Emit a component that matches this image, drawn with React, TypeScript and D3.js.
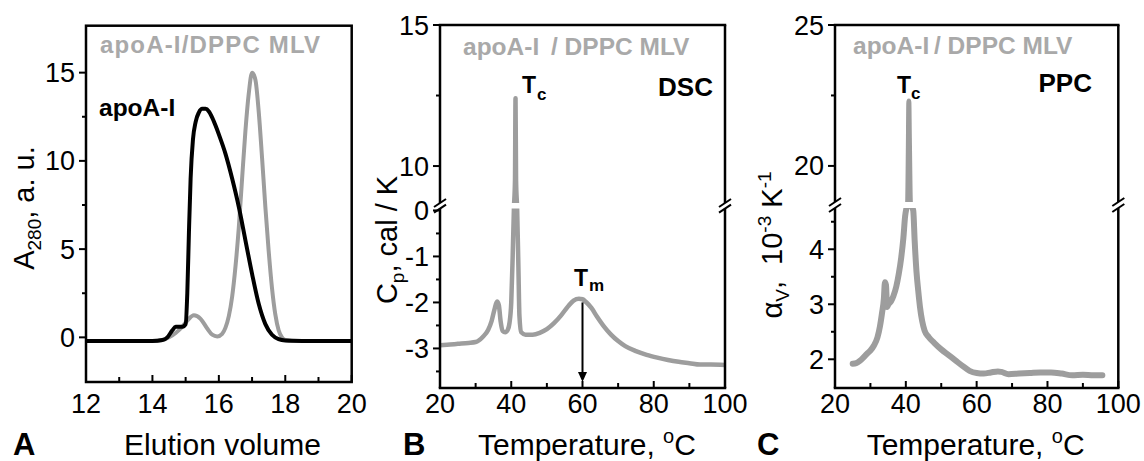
import React from "react";
import * as d3 from "d3";

const FONT = "'Liberation Sans', Arial, Helvetica, sans-serif";
const CURVE_GRAY = "#9d9d9d";
const LEGEND_GRAY = "#a9a9a9";

// ---------- Panel A : SEC ----------
const secLipidVol = [12.0, 13.0, 14.0, 14.3, 14.5, 14.7, 14.9, 15.05, 15.25, 15.45, 15.65, 15.8, 15.95, 16.1, 16.2, 16.3, 16.4, 16.5, 16.6, 16.7, 16.8, 16.9, 17.0, 17.1, 17.2, 17.3, 17.4, 17.5, 17.6, 17.7, 17.8, 17.9, 18.0, 18.2, 19.0, 20.0];
const secLipidAbs = [-0.2, -0.2, -0.2, -0.15, 0.0, 0.25, 0.6, 0.95, 1.25, 1.05, 0.5, 0.15, 0.05, 0.2, 0.55, 1.2, 2.3, 4.0, 6.2, 9.0, 11.7, 13.8, 15.0, 14.6, 12.8, 10.2, 7.4, 4.9, 2.8, 1.3, 0.4, 0.0, -0.15, -0.2, -0.2, -0.2];
const secApoVol = [12.0, 13.0, 14.0, 14.3, 14.45, 14.6, 14.7, 14.9, 15.0, 15.05, 15.1, 15.15, 15.22, 15.3, 15.4, 15.5, 15.6, 15.7, 15.8, 15.9, 16.0, 16.2, 16.4, 16.6, 16.8, 17.0, 17.2, 17.4, 17.6, 17.8, 18.0, 18.5, 20.0];
const secApoAbs = [-0.2, -0.2, -0.2, -0.15, 0.0, 0.4, 0.6, 0.6, 0.75, 2.5, 6.0, 9.0, 11.2, 12.2, 12.75, 12.95, 12.95, 12.8, 12.45, 12.0, 11.5, 10.4, 9.0, 7.4, 5.5, 3.6, 1.9, 0.75, 0.15, -0.1, -0.18, -0.2, -0.2];
const secXTicks = [12, 14, 16, 18, 20];
const secXMinor = [13, 15, 17, 19];
const secYTicks = [0, 5, 10, 15];
const secYMinor = [2.5, 7.5, 12.5];

// ---------- Panel B : DSC ----------
const dscT = [20, 22, 25, 28, 30, 32, 33.5, 34.5, 35.3, 36.0, 36.5, 37.0, 37.6, 38.3, 39.0, 39.5, 40.0, 40.4, 40.75, 41.05, 41.2, 41.35, 41.65, 42.0, 42.3, 42.8, 44, 46, 48, 50, 52, 54, 56, 57.5, 59, 60, 61, 62.5, 64, 66, 68, 70, 72, 75, 78, 81, 84, 87, 90, 93, 96, 100];
const dscCp = [-2.93, -2.92, -2.9, -2.88, -2.86, -2.75, -2.6, -2.4, -2.15, -1.98, -2.05, -2.4, -2.62, -2.65, -2.6, -2.45, -2.0, -1.0, 0.5, 9.5, 12.4, 9.5, 0.5, -1.2, -2.3, -2.65, -2.7, -2.7, -2.66, -2.58, -2.45, -2.28, -2.08, -1.96, -1.92, -1.93, -1.99, -2.12, -2.3, -2.52, -2.7, -2.84, -2.95, -3.06, -3.14, -3.2, -3.25, -3.29, -3.32, -3.35, -3.35, -3.36];
const tempTicks = [20, 40, 60, 80, 100];
const tempMinor = [30, 50, 70, 90];
const dscYTicksLow = [-3, -2, -1, 0];
const dscYMinorLow = [-3.5, -2.5, -1.5, -0.5];
const dscYTicksHigh = [10, 15];
const dscYMinorHigh = [12.5];
const tmTemp = 60;
const tmArrow = [-2.0, -3.73];

// ---------- Panel C : PPC ----------
const ppcT = [25, 26, 27, 28, 29, 30, 31, 32, 32.7, 33.3, 33.8, 34.1, 34.4, 34.7, 35.1, 35.8, 36.5, 37.3, 38.0, 38.7, 39.3, 39.8, 40.2, 40.5, 40.7, 40.85, 41.0, 41.3, 41.7, 42.1, 42.5, 43.0, 43.5, 44.0, 44.6, 45.3, 46.5, 48, 50, 52, 54, 56, 58, 60, 62, 64, 66, 67, 69, 72, 75, 78, 81, 84, 87, 90, 93, 95.5];
const ppcAlpha = [1.92, 1.93, 1.97, 2.03, 2.1, 2.16, 2.25, 2.4, 2.6, 2.85, 3.1, 3.4, 3.35, 2.95, 3.0, 3.05, 3.15, 3.32, 3.55, 3.85, 4.2, 4.6, 5.5, 15, 20.5, 22.3, 21, 17, 8, 4.7, 4.15, 3.6, 3.25, 2.95, 2.7, 2.52, 2.4, 2.3, 2.18, 2.08, 1.98, 1.88, 1.79, 1.75, 1.74, 1.76, 1.78, 1.77, 1.73, 1.74, 1.75, 1.76, 1.76, 1.74, 1.71, 1.72, 1.71, 1.71];
const ppcYTicksLow = [2, 3, 4];
const ppcYMinorLow = [2.5, 3.5, 4.5];
const ppcYTicksHigh = [20, 25];
const ppcYMinorHigh = [22.5];

type Scale = (v: number) => number;

function LeftTicks({ x0, y, major, minor }: { x0: number; y: Scale; major: number[]; minor: number[] }) {
  return (
    <g>
      {major.map((v) => (
        <line key={"M" + v} x1={x0 - 7} x2={x0} y1={y(v)} y2={y(v)} stroke="#000" strokeWidth={2} />
      ))}
      {minor.map((v) => (
        <line key={"m" + v} x1={x0 - 4} x2={x0} y1={y(v)} y2={y(v)} stroke="#000" strokeWidth={2} />
      ))}
      {major.map((v) => (
        <text key={"t" + v} x={x0 - 11} y={y(v) + 9.5} textAnchor="end" fontSize={27} fontFamily={FONT}>
          {String(v)}
        </text>
      ))}
    </g>
  );
}

function BottomTicks({ y0, x, major, minor }: { y0: number; x: Scale; major: number[]; minor: number[] }) {
  return (
    <g>
      {major.map((v) => (
        <line key={"M" + v} x1={x(v)} x2={x(v)} y1={y0} y2={y0 - 7} stroke="#000" strokeWidth={2} />
      ))}
      {minor.map((v) => (
        <line key={"m" + v} x1={x(v)} x2={x(v)} y1={y0} y2={y0 - 5} stroke="#000" strokeWidth={2} />
      ))}
      {major.map((v) => (
        <text key={"t" + v} x={x(v)} y={413} textAnchor="middle" fontSize={27} fontFamily={FONT}>
          {String(v)}
        </text>
      ))}
    </g>
  );
}

function BrokenFrame({ x0, x1, y0, y1, gA, gB }: { x0: number; x1: number; y0: number; y1: number; gA: number; gB: number }) {
  const s = { stroke: "#000", strokeWidth: 2.5, fill: "none" } as const;
  const mark = (x: number, y: number, k: string) => (
    <line key={k} x1={x - 6} y1={y + 4} x2={x + 6} y2={y - 4} stroke="#000" strokeWidth={2} />
  );
  return (
    <g>
      <line x1={x0 - 1.25} x2={x1 + 1.25} y1={y1} y2={y1} {...s} />
      <line x1={x0 - 1.25} x2={x1 + 1.25} y1={y0} y2={y0} {...s} />
      <line x1={x0} x2={x0} y1={y1} y2={gA} {...s} />
      <line x1={x0} x2={x0} y1={gB} y2={y0} {...s} />
      <line x1={x1} x2={x1} y1={y1} y2={gA} {...s} />
      <line x1={x1} x2={x1} y1={gB} y2={y0} {...s} />
      {mark(x0, gA, "a")}
      {mark(x0, gB, "b")}
      {mark(x1, gA, "c")}
      {mark(x1, gB, "d")}
    </g>
  );
}

export default function App() {
  // ----- Panel A scales
  const ax = d3.scaleLinear().domain([12, 20]).range([86, 351.7]);
  const ay = d3.scaleLinear().domain([-2.53, 17.66]).range([382, 25.7]);
  const lineA = d3
    .line<number>()
    .curve(d3.curveMonotoneX);
  const lipidPath = lineA
    .x((_, i) => ax(secLipidVol[i]))
    .y((d) => ay(d))(secLipidAbs) as string;
  const apoPath = lineA
    .x((_, i) => ax(secApoVol[i]))
    .y((d) => ay(d))(secApoAbs) as string;

  // ----- Panel B scales (broken y axis)
  const bx = d3.scaleLinear().domain([20, 100]).range([440, 725]);
  const by = d3.scaleLinear().domain([-3.86, 0.04, 8.69, 15]).range([388, 208.6, 203, 25]);
  const dscPath = d3
    .line<number>()
    .x((_, i) => bx(dscT[i]))
    .y((d) => by(d))
    .curve(d3.curveMonotoneX)(dscCp) as string;

  // ----- Panel C scales (broken y axis)
  const cx = d3.scaleLinear().domain([20, 100]).range([835, 1118.3]);
  const cy = d3.scaleLinear().domain([1.478, 4.75, 18.72, 25]).range([388, 208, 202, 25]);
  const ppcPath = d3
    .line<number>()
    .x((_, i) => cx(ppcT[i]))
    .y((d) => cy(d))
    .curve(d3.curveMonotoneX)(ppcAlpha) as string;

  const arrowX = bx(tmTemp);
  const arrowY0 = by(tmArrow[0]);
  const arrowY1 = by(tmArrow[1]);

  return (
    <svg
      width={1144}
      height={461}
      viewBox="0 0 1144 461"
      style={{ position: "absolute", left: 0, top: 0, background: "#fff" }}
      fontFamily={FONT}
    >
      <defs>
        <clipPath id="bLow">
          <rect x={440} y={208.6} width={285} height={179.4} />
        </clipPath>
        <clipPath id="bHigh">
          <rect x={440} y={25} width={285} height={178} />
        </clipPath>
        <clipPath id="cLow">
          <rect x={835} y={208} width={283.3} height={180} />
        </clipPath>
        <clipPath id="cHigh">
          <rect x={835} y={25} width={283.3} height={177} />
        </clipPath>
        <clipPath id="aClip">
          <rect x={86} y={25.7} width={265.7} height={356.3} />
        </clipPath>
      </defs>

      {/* ================= Panel A ================= */}
      <g clipPath="url(#aClip)">
        <path d={lipidPath} fill="none" stroke={CURVE_GRAY} strokeWidth={4} strokeLinejoin="round" />
        <path d={apoPath} fill="none" stroke="#000" strokeWidth={4} strokeLinejoin="round" />
      </g>
      <rect x={86} y={25.7} width={265.7} height={356.3} fill="none" stroke="#000" strokeWidth={2.5} />
      <LeftTicks x0={86} y={ay} major={secYTicks} minor={secYMinor} />
      <BottomTicks y0={382} x={ax} major={secXTicks} minor={secXMinor} />
      <text x={100} y={53.3} fontSize={24} fontWeight="bold" fill={LEGEND_GRAY} textLength={220} lengthAdjust="spacing">
        apoA-I/DPPC MLV
      </text>
      <text x={99} y={116} fontSize={24.5} fontWeight="bold" fill="#000">
        apoA-I
      </text>
      <text transform="translate(33.5,208) rotate(-90)" textAnchor="middle" fontSize={29}>
        <tspan>A</tspan>
        <tspan fontSize={19} dy={7}>280</tspan>
        <tspan dy={-7}>, a. u.</tspan>
      </text>
      <text x={222.5} y={455} textAnchor="middle" fontSize={30}>
        Elution volume
      </text>
      <text x={13} y={455} fontSize={31} fontWeight="bold">
        A
      </text>

      {/* ================= Panel B ================= */}
      <g clipPath="url(#bLow)">
        <path d={dscPath} fill="none" stroke={CURVE_GRAY} strokeWidth={4.5} strokeLinejoin="round" />
      </g>
      <g clipPath="url(#bHigh)">
        <path d={dscPath} fill="none" stroke={CURVE_GRAY} strokeWidth={4.5} strokeLinejoin="round" />
      </g>
      <BrokenFrame x0={440} x1={725} y0={388} y1={25} gA={203} gB={208.6} />
      <LeftTicks x0={440} y={by} major={[...dscYTicksLow, ...dscYTicksHigh]} minor={[...dscYMinorLow, ...dscYMinorHigh]} />
      <BottomTicks y0={388} x={bx} major={tempTicks} minor={tempMinor} />
      <line x1={arrowX} x2={arrowX} y1={arrowY0} y2={arrowY1 - 8} stroke="#000" strokeWidth={2} />
      <path d={`M${arrowX - 4.5},${arrowY1 - 10} L${arrowX + 4.5},${arrowY1 - 10} L${arrowX},${arrowY1} Z`} fill="#000" />
      <text x={463} y={55} fontSize={24.5} fontWeight="bold" fill={LEGEND_GRAY}>apoA-I</text>
      <text x={551} y={55} fontSize={24.5} fontWeight="bold" fill={LEGEND_GRAY}>/ DPPC MLV</text>
      <text x={522} y={93} fontSize={23} fontWeight="bold">T</text>
      <text x={537} y={100} fontSize={17} fontWeight="bold">c</text>
      <text x={713} y={96} fontSize={26} fontWeight="bold" textAnchor="end">DSC</text>
      <text x={574} y={286} fontSize={23} fontWeight="bold">T</text>
      <text x={589} y={291} fontSize={17} fontWeight="bold">m</text>
      <text transform="translate(397,240) rotate(-90)" textAnchor="middle" fontSize={29}>
        <tspan>C</tspan>
        <tspan fontSize={19} dy={7}>p</tspan>
        <tspan dy={-7}>, cal / K</tspan>
      </text>
      <text x={478} y={455} fontSize={30}>
        <tspan>Temperature, </tspan>
        <tspan fontSize={20} dy={-12}>o</tspan>
        <tspan dy={12}>C</tspan>
      </text>
      <text x={403} y={455} fontSize={31} fontWeight="bold">B</text>

      {/* ================= Panel C ================= */}
      <g clipPath="url(#cLow)">
        <path d={ppcPath} fill="none" stroke={CURVE_GRAY} strokeWidth={6} strokeLinejoin="round" strokeLinecap="round" />
      </g>
      <g clipPath="url(#cHigh)">
        <path d={ppcPath} fill="none" stroke={CURVE_GRAY} strokeWidth={5} strokeLinejoin="round" strokeLinecap="round" />
      </g>
      <BrokenFrame x0={835} x1={1118.3} y0={388} y1={25} gA={202} gB={208} />
      <LeftTicks x0={835} y={cy} major={[...ppcYTicksLow, ...ppcYTicksHigh]} minor={[...ppcYMinorLow, ...ppcYMinorHigh]} />
      <BottomTicks y0={388} x={cx} major={tempTicks} minor={tempMinor} />
      <text x={853} y={54} fontSize={24.5} fontWeight="bold" fill={LEGEND_GRAY}>apoA-I</text>
      <text x={934} y={54} fontSize={24.5} fontWeight="bold" fill={LEGEND_GRAY}>/ DPPC MLV</text>
      <text x={897} y={93} fontSize={23} fontWeight="bold">T</text>
      <text x={911} y={99} fontSize={17} fontWeight="bold">c</text>
      <text x={1092} y={92} fontSize={26} fontWeight="bold" textAnchor="end">PPC</text>
      <text transform="translate(782,245) rotate(-90)" textAnchor="middle" fontSize={29}>
        <tspan>α</tspan>
        <tspan fontSize={19} dy={7}>V</tspan>
        <tspan dy={-7}>,{"\u00a0\u00a0"}10</tspan>
        <tspan fontSize={19} dy={-11}>-3</tspan>
        <tspan dy={11}>{"\u00a0"}K</tspan>
        <tspan fontSize={19} dy={-11}>-1</tspan>
      </text>
      <text x={866.7} y={455} fontSize={30}>
        <tspan>Temperature, </tspan>
        <tspan fontSize={20} dy={-12}>o</tspan>
        <tspan dy={12}>C</tspan>
      </text>
      <text x={757} y={455} fontSize={31} fontWeight="bold">C</text>
    </svg>
  );
}
